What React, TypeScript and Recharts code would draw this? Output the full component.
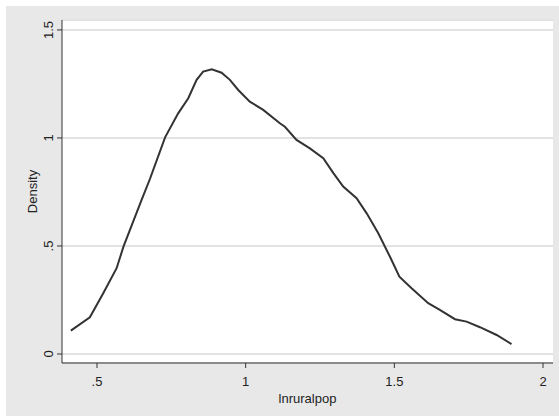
import { LineChart, Line, XAxis, YAxis, CartesianGrid } from 'recharts';

const lnruralpop = [
  0.412, 0.476, 0.521, 0.566, 0.589, 0.617, 0.65, 0.678, 0.729, 0.773, 0.807, 0.835, 0.857,
  0.886, 0.919, 0.947, 0.975, 1.014, 1.059, 1.115, 1.132, 1.171, 1.216, 1.261, 1.295, 1.328,
  1.373, 1.407, 1.446, 1.485, 1.517, 1.558, 1.614, 1.653, 1.704, 1.743, 1.788, 1.844, 1.894,
];
const density = [
  0.108, 0.17, 0.281, 0.397, 0.497, 0.597, 0.713, 0.81, 1.003, 1.114, 1.184, 1.269, 1.307,
  1.318, 1.302, 1.269, 1.222, 1.168, 1.13, 1.068, 1.052, 0.991, 0.952, 0.906, 0.837, 0.775,
  0.721, 0.651, 0.559, 0.451, 0.358, 0.304, 0.235, 0.204, 0.161, 0.15, 0.124, 0.088, 0.046,
];
const xTicks = [0.5, 1, 1.5, 2];
const yTicks = [0, 0.5, 1, 1.5];

const data = lnruralpop.map((x, i) => ({ x, y: density[i] }));

const FONT = '"Liberation Sans", Arial, sans-serif';
// Stata style: drop the leading zero of decimals, keep a plain 0
const fmt = (v: number) => (v > 0 && v < 1 ? String(v).slice(1) : String(v));

const XTick = ({ x, y, payload }: any) => (
  <text x={x} y={y} dy="0.71em" textAnchor="middle" fontSize={13} fontFamily={FONT} fill="#222">
    {fmt(payload.value)}
  </text>
);

const YTick = ({ y, payload }: any) => (
  <text
    x={53}
    y={y}
    transform={`rotate(-90, 53, ${y})`}
    textAnchor="middle"
    fontSize={13}
    fontFamily={FONT}
    fill="#222"
  >
    {fmt(payload.value)}
  </text>
);

export default function App() {
  return (
    <div style={{ position: 'absolute', left: 0, top: 0, width: 559, height: 417, background: '#fff' }}>
      <div style={{ position: 'absolute', left: 6, top: 6, width: 553, height: 410, background: '#e8e8e8' }} />
      <div style={{ position: 'absolute', left: 0, top: 0 }}>
        <LineChart width={559} height={417} data={data} margin={{ top: 20, right: 6, bottom: 0, left: 0 }}>
          <CartesianGrid vertical={false} fill="#fff" stroke="#e2e2e2" strokeWidth={2} />
          <XAxis
            dataKey="x"
            type="number"
            domain={[0.3823, 2.0336]}
            ticks={xTicks}
            allowDataOverflow
            height={54}
            tickSize={5}
            tickMargin={9}
            stroke="#333"
            tick={<XTick />}
            label={{
              content: () => (
                <text x={307.5} y={403} textAnchor="middle" fontSize={13} fontFamily={FONT} fill="#222">
                  lnruralpop
                </text>
              ),
            }}
          />
          <YAxis
            type="number"
            domain={[-0.0417, 1.546]}
            ticks={yTicks}
            allowDataOverflow
            width={62}
            tickSize={5}
            stroke="#333"
            tick={<YTick />}
            label={{
              content: () => (
                <text
                  x={37}
                  y={191.5}
                  transform="rotate(-90, 37, 191.5)"
                  textAnchor="middle"
                  fontSize={13}
                  fontFamily={FONT}
                  fill="#222"
                >
                  Density
                </text>
              ),
            }}
          />
          <Line
            dataKey="y"
            type="linear"
            stroke="#333"
            strokeWidth={2}
            dot={false}
            isAnimationActive={false}
          />
        </LineChart>
      </div>
    </div>
  );
}
